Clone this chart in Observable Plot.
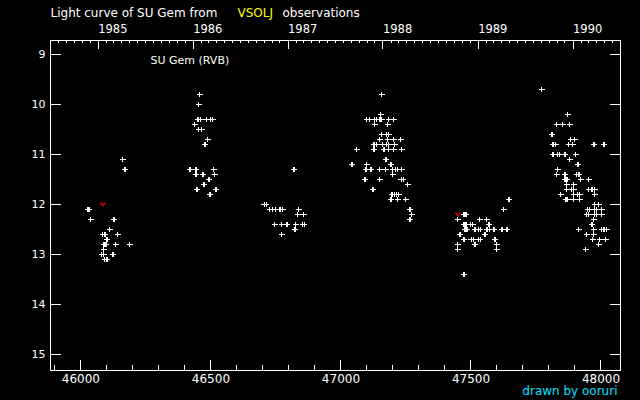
<!DOCTYPE html>
<html><head><meta charset="utf-8">
<script src="https://cdn.jsdelivr.net/npm/d3@7"></script>
<script src="https://cdn.jsdelivr.net/npm/@observablehq/plot@0.6"></script>
<style>html,body{margin:0;padding:0;background:#000;overflow:hidden;}</style>
</head><body><div id="chart"></div>
<script>
// Observation dates (JD - 2400000) and visual magnitudes
const jd = [
  // 1985
  46027,46033,46038,46127,46111,46084,46093,46142,46100,46089,46096,46134,46188,46088,46080,46088,46123,46091,46100,46161,46169,
  // 1986
  46457,46453,46450,46461,46484,46499,46507,46438,46453,46465,46488,46477,46419,46442,46511,46442,46469,46515,46492,46473,46446,46519,46496,
  // 1987
  46705,46713,46726,46738,46749,46765,46776,46838,46834,46857,46745,46772,46792,46826,46852,46859,46823,46772,46819,
  // 1988
  47157,47153,47099,47111,47128,47136,47150,47157,47184,47203,47130,47180,47157,47176,47184,47149,47180,47203,47230,
  47127,47138,47161,47176,47184,47207,47061,47127,47165,47184,47203,47234,47173,47042,47099,47192,
  47096,47115,47149,47172,47199,47209,47217,47234,47199,47092,47149,47232,47240,47257,47123,
  47196,47207,47214,47222,47192,47218,47249,47265,47272,47265,
  // 1989
  47473,47481,47449,47534,47561,47473,47481,47499,47507,47569,
  47477,47485,47515,47528,47536,47562,47570,47588,47619,47638,
  47458,47554,47473,47501,47509,47528,47536,47592,47449,47515,47599,47449,47599,47473,47626,47646,
  // 1990
  47772,47872,47830,47853,47880,47811,47884,47899,47815,47826,47876,47891,47973,48011,
  47815,47833,47841,47861,47903,47880,47911,47834,47830,47861,47907,47915,
  47861,47869,47922,47953,47868,47895,47868,47887,47895,47953,47965,47976,
  47845,47895,47910,47918,47976,47865,47872,47895,47918,47976,47991,
  47949,47957,47976,47984,48003,47945,47953,47976,47984,48003,47972,47965,
  47914,47972,48003,48011,48022,47945,47972,47968,47995,48018,47991,47941
];
const mag = [
  // 1985
  12.1,12.1,12.3,12.3,12.5,12.6,12.6,12.6,12.7,12.8,12.8,12.8,12.8,12.9,13.0,13.0,13.0,13.1,13.1,11.1,11.3,
  // 1986
  9.8,10.0,10.3,10.3,10.3,10.3,10.3,10.4,10.5,10.5,10.7,10.8,11.3,11.3,11.3,11.4,11.4,11.4,11.5,11.6,11.7,11.7,11.8,
  // 1987
  12.0,12.0,12.1,12.1,12.1,12.1,12.1,12.1,12.2,12.2,12.4,12.4,12.4,12.4,12.4,12.4,12.5,12.6,11.3,
  // 1988
  9.8,10.2,10.3,10.3,10.3,10.3,10.3,10.3,10.3,10.3,10.4,10.4,10.6,10.6,10.6,10.7,10.7,10.7,10.7,
  10.8,10.8,10.8,10.8,10.8,10.8,10.9,10.9,10.9,10.9,10.9,10.9,11.1,11.2,11.2,11.2,
  11.3,11.3,11.3,11.3,11.3,11.3,11.3,11.3,11.4,11.5,11.5,11.5,11.5,11.6,11.7,
  11.8,11.8,11.8,11.8,11.9,11.9,11.9,12.1,12.2,12.3,
  // 1989
  12.2,12.2,12.3,12.3,12.3,12.4,12.4,12.4,12.4,12.4,
  12.5,12.5,12.5,12.5,12.5,12.5,12.5,12.5,12.5,12.5,
  12.6,12.6,12.7,12.7,12.7,12.7,12.7,12.7,12.8,12.8,12.8,12.9,12.9,13.4,12.1,11.9,
  // 1990
  9.7,10.2,10.4,10.4,10.4,10.6,10.7,10.7,10.8,10.8,10.8,10.8,10.8,10.8,
  11.0,11.0,11.0,11.0,11.0,11.1,11.2,11.3,11.4,11.4,11.4,11.4,
  11.5,11.5,11.5,11.5,11.6,11.6,11.7,11.7,11.7,11.7,11.7,11.7,
  11.8,11.8,11.8,11.8,11.8,11.9,11.9,11.9,11.9,12.0,12.0,
  12.1,12.1,12.1,12.1,12.1,12.2,12.2,12.2,12.2,12.2,12.3,12.4,
  12.5,12.5,12.5,12.5,12.5,12.6,12.6,12.7,12.7,12.7,12.8,12.9
];
// "fainter than" estimates (red marks)
const limitJd = [46084, 47449];
const limitMag = [12.0, 12.2];

const yearLabels = ["1985", "1986", "1987", "1988", "1989", "1990"];
const magTicks = [9, 10, 11, 12, 13, 14, 15];
const jdMajorTicks = [46000, 46500, 47000, 47500, 48000];
const jdMinorTicks = d3.range(45900, 48001, 100);

const titleMain = "Light curve of SU Gem from";
const titleSource = "VSOLJ";
const titleEnd = "observations";
const starLabel = "SU Gem (RVB)";
const credit = "drawn by ooruri";

// layout
const W = 640, H = 400, mL = 50, mR = 20, mT = 40, mB = 30;
const fw = W - mL - mR, fh = H - mT - mB;
const xDomain = [45883, 48075];
const yDomain = [8.72, 15.32];

const toJd = d => d.getTime() / 864e5 + 40587.5;
const yearJd = yearLabels.map(y => toJd(new Date(Date.UTC(+y, 0, 1))));
const monthJd = d3.utcMonth.range(new Date(Date.UTC(1984, 0, 1)), new Date(Date.UTC(1991, 0, 1)))
  .map(toJd).filter(j => j > xDomain[0] && j < xDomain[1]);

const points = jd.map((j, i) => ({jd: j, mag: mag[i]}));
const limits = limitJd.map((j, i) => ({jd: j, mag: limitMag[i]}));

const vSymbol = {draw(ctx) { ctx.moveTo(-2.5, -1.8); ctx.lineTo(0, 1.2); ctx.lineTo(2.5, -1.8); }};

const chart = Plot.plot({
  width: W, height: H,
  marginLeft: mL, marginRight: mR, marginTop: mT, marginBottom: mB,
  style: {background: "black", color: "white", fontFamily: "DejaVu Sans", fontSize: "11px"},
  x: {domain: xDomain, axis: null},
  y: {domain: yDomain, reverse: true, axis: null},
  marks: [
    Plot.frame({stroke: "white", shapeRendering: "crispEdges"}),
    // bottom JD ticks
    Plot.ruleX(jdMinorTicks, {x: d => d, insetTop: fh - 5, stroke: "white", shapeRendering: "crispEdges"}),
    Plot.ruleX(jdMajorTicks, {x: d => d, insetTop: fh - 10, stroke: "white", shapeRendering: "crispEdges"}),
    Plot.text(jdMajorTicks, {x: d => d, text: d => String(d), frameAnchor: "bottom", lineAnchor: "bottom", dy: 12, fontSize: 12, fill: "white"}),
    // top calendar ticks
    Plot.ruleX(monthJd, {x: d => d, insetBottom: fh - 3, stroke: "white", shapeRendering: "crispEdges"}),
    Plot.ruleX(yearJd, {x: d => d, insetBottom: fh - 9, stroke: "white", shapeRendering: "crispEdges"}),
    Plot.text(yearLabels, {x: (d, i) => yearJd[i], text: d => d, frameAnchor: "top", textAnchor: "start", lineAnchor: "bottom", dy: -7.5, fontSize: 11.5, fill: "white"}),
    // magnitude ticks (left and right)
    Plot.ruleY(magTicks, {y: d => d, insetRight: fw - 11, stroke: "white", shapeRendering: "crispEdges"}),
    Plot.ruleY(magTicks, {y: d => d, insetLeft: fw - 10, stroke: "white", shapeRendering: "crispEdges"}),
    Plot.text(magTicks, {y: d => d, text: d => String(d), frameAnchor: "left", textAnchor: "end", dx: -5, fontSize: 11, fill: "white"}),
    // observations
    Plot.dot(points, {x: "jd", y: "mag", symbol: "plus", r: 2, stroke: "white", strokeWidth: 1.3, shapeRendering: "crispEdges"}),
    Plot.dot(limits, {x: "jd", y: "mag", symbol: vSymbol, r: 2, fill: "none", stroke: "#ff0000", strokeWidth: 1.3}),
    // titles
    Plot.text([titleMain], {text: d => d, frameAnchor: "top-left", textAnchor: "start", lineAnchor: "bottom", dy: -23.5, fontSize: 12, fill: "white"}),
    Plot.text([titleSource], {text: d => d, frameAnchor: "top-left", textAnchor: "start", lineAnchor: "bottom", dx: 187, dy: -23.5, fontSize: 12, fill: "#ffff00"}),
    Plot.text([titleEnd], {text: d => d, frameAnchor: "top-left", textAnchor: "start", lineAnchor: "bottom", dx: 232, dy: -23.5, fontSize: 12, fill: "white"}),
    Plot.text([starLabel], {text: d => d, frameAnchor: "top-left", textAnchor: "start", lineAnchor: "bottom", dx: 100, dy: 23.5, fontSize: 11, fill: "white"}),
    Plot.text([credit], {text: d => d, frameAnchor: "bottom-right", textAnchor: "end", lineAnchor: "bottom", dx: -3, dy: 24.5, fontSize: 12, fill: "#00e0ff"})
  ]
});
document.getElementById("chart").appendChild(chart);
</script>
</body></html>
